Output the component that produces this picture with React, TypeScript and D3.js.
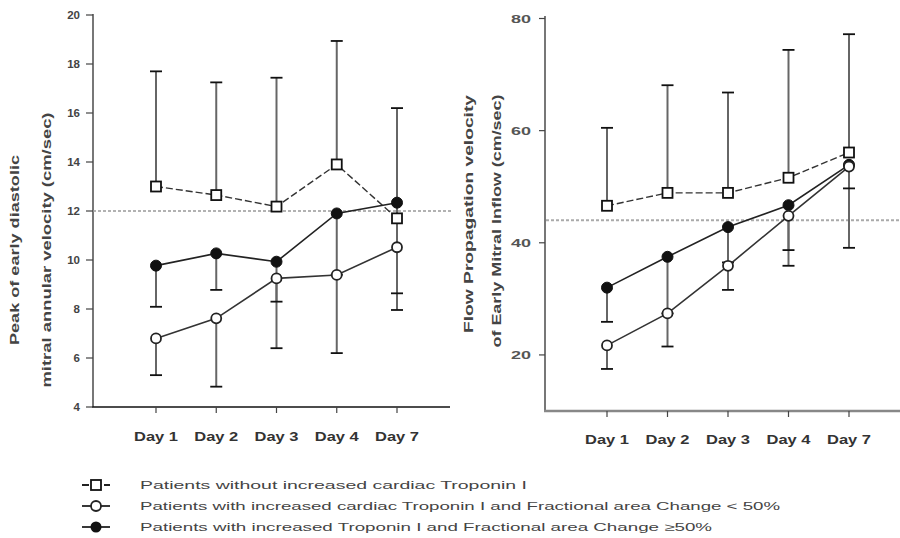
import React from "react";
import * as d3 from "d3";

const days = ["Day 1", "Day 2", "Day 3", "Day 4", "Day 7"];

// Peak early diastolic mitral annular velocity (cm/sec)
const leftSquareMean = [13.0, 12.65, 12.18, 13.9, 11.7];
const leftSquareUpper = [17.7, 17.25, 17.44, 18.94, 16.2];
const leftOpenMean = [6.8, 7.62, 9.25, 9.39, 10.52];
const leftOpenLower = [5.3, 4.83, 6.4, 6.2, 7.96];
const leftFilledMean = [9.77, 10.27, 9.93, 11.9, 12.34];
const leftFilledLower = [8.09, 8.78, 8.3, 9.4, 8.64];
const leftTicks = [4, 6, 8, 10, 12, 14, 16, 18, 20];
const leftReference = 12;

// Flow propagation velocity of early mitral inflow (cm/sec)
const rightSquareMean = [46.6, 48.9, 48.9, 51.6, 56.1];
const rightSquareUpper = [60.5, 68.1, 66.8, 74.4, 77.2];
const rightOpenMean = [21.7, 27.4, 35.9, 44.8, 53.6];
const rightOpenLower = [17.5, 21.5, 31.6, 35.9, 39.1];
const rightFilledMean = [32.0, 37.5, 42.8, 46.7, 53.9];
const rightFilledLower = [25.9, 27.4, 36.5, 38.7, 49.7];
const rightTicks = [20, 40, 60, 80];
const rightReference = 44;

const legendLabels = [
  "Patients without increased cardiac Troponin I",
  "Patients with increased cardiac Troponin I and Fractional area Change < 50%",
  "Patients with increased Troponin I and Fractional area Change \u226550%",
];
const legendWidths = [387, 640, 572];

const FONT = "'Liberation Sans', Arial, Helvetica, sans-serif";

type Panel = {
  x: d3.ScalePoint<string>;
  y: d3.ScaleLinear<number, number>;
  sqMean: number[];
  sqUpper: number[];
  opMean: number[];
  opLower: number[];
  fiMean: number[];
  fiLower: number[];
};

function Series({ x, y, sqMean, sqUpper, opMean, opLower, fiMean, fiLower }: Panel) {
  const line = (vals: number[]) =>
    d3
      .line<number>()
      .x((_, i) => x(days[i]) as number)
      .y((v) => y(v))(vals) as string;
  const cap = 6;
  const bar = (mean: number[], end: number[], key: string) =>
    mean.map((m, i) => {
      const cx = x(days[i]) as number;
      return (
        <g key={key + i}>
          <line x1={cx} x2={cx} y1={y(m)} y2={y(end[i])} stroke="#666" strokeWidth={2} />
          <line x1={cx - cap} x2={cx + cap} y1={y(end[i])} y2={y(end[i])} stroke="#111" strokeWidth={1.8} />
        </g>
      );
    });
  return (
    <g>
      {bar(sqMean, sqUpper, "sq")}
      {bar(opMean, opLower, "op")}
      {bar(fiMean, fiLower, "fi")}
      <path d={line(sqMean)} fill="none" stroke="#333" strokeWidth={1.4} strokeDasharray="7,3" />
      <path d={line(opMean)} fill="none" stroke="#333" strokeWidth={1.6} />
      <path d={line(fiMean)} fill="none" stroke="#222" strokeWidth={1.6} />
      {fiMean.map((v, i) => (
        <circle key={"fc" + i} cx={x(days[i]) as number} cy={y(v)} r={5.5} fill="#111" stroke="#111" />
      ))}
      {opMean.map((v, i) => (
        <circle key={"oc" + i} cx={x(days[i]) as number} cy={y(v)} r={5} fill="#fff" stroke="#222" strokeWidth={1.8} />
      ))}
      {sqMean.map((v, i) => (
        <rect
          key={"sq" + i}
          x={(x(days[i]) as number) - 5}
          y={y(v) - 5}
          width={10}
          height={10}
          fill="#fff"
          stroke="#111"
          strokeWidth={1.8}
        />
      ))}
    </g>
  );
}

function VTitle({ x, y, len, children }: { x: number; y: number; len: number; children: string }) {
  return (
    <g transform={`translate(${x},${y}) rotate(-90)`}>
      <text
        textAnchor="middle"
        fontSize={12}
        fontWeight="bold"
        fill="#444"
        textLength={len}
        lengthAdjust="spacingAndGlyphs"
      >
        {children}
      </text>
    </g>
  );
}

export default function App() {
  const xL = d3.scalePoint<string>().domain(days).range([156, 397]);
  const yL = d3.scaleLinear().domain([4, 20]).range([407, 15]);
  const xR = d3.scalePoint<string>().domain(days).range([607, 849]);
  const yR = d3.scaleLinear().domain([10, 80]).range([411, 18.5]);

  const legendY = [485, 506, 527];

  return (
    <svg
      width={900}
      height={538}
      style={{ position: "absolute", left: 0, top: 0, background: "#fff" }}
      fontFamily={FONT}
    >
      {/* left panel axes */}
      <line x1={93} x2={93} y1={14} y2={407} stroke="#777" strokeWidth={2} />
      <line x1={92} x2={450} y1={407} y2={407} stroke="#111" strokeWidth={1.6} />
      {leftTicks.map((t) => (
        <g key={"lt" + t}>
          <line x1={86} x2={93} y1={yL(t)} y2={yL(t)} stroke="#444" strokeWidth={1.2} />
          <text x={80} y={yL(t) + 4} textAnchor="end" fontSize={11.5} fontWeight="bold" fill="#444">
            {t}
          </text>
        </g>
      ))}
      {days.map((d) => (
        <g key={"lx" + d}>
          <line x1={xL(d) as number} x2={xL(d) as number} y1={407} y2={413} stroke="#444" strokeWidth={1.2} />
          <text
            x={xL(d) as number}
            y={441}
            textAnchor="middle"
            fontSize={12}
            fontWeight="bold"
            fill="#333"
            textLength={44}
            lengthAdjust="spacingAndGlyphs"
          >
            {d}
          </text>
        </g>
      ))}
      <line
        x1={93}
        x2={452}
        y1={yL(leftReference)}
        y2={yL(leftReference)}
        stroke="#999"
        strokeWidth={1.3}
        strokeDasharray="3,2"
      />
      <VTitle x={19} y={250} len={190}>Peak of early diastolic</VTitle>
      <VTitle x={51} y={250} len={275}>mitral annular velocity (cm/sec)</VTitle>
      <Series
        x={xL}
        y={yL}
        sqMean={leftSquareMean}
        sqUpper={leftSquareUpper}
        opMean={leftOpenMean}
        opLower={leftOpenLower}
        fiMean={leftFilledMean}
        fiLower={leftFilledLower}
      />

      {/* right panel axes */}
      <line x1={545} x2={545} y1={16} y2={411} stroke="#777" strokeWidth={2} />
      <line x1={544} x2={900} y1={411} y2={411} stroke="#888" strokeWidth={2.5} />
      {rightTicks.map((t) => (
        <g key={"rt" + t}>
          <line x1={539} x2={545} y1={yR(t)} y2={yR(t)} stroke="#444" strokeWidth={1.2} />
          <text
            x={531}
            y={yR(t) + 4}
            textAnchor="end"
            fontSize={11.5}
            fontWeight="bold"
            fill="#555"
            textLength={20}
            lengthAdjust="spacingAndGlyphs"
          >
            {t}
          </text>
        </g>
      ))}
      {days.map((d) => (
        <g key={"rx" + d}>
          <line x1={xR(d) as number} x2={xR(d) as number} y1={411} y2={417} stroke="#444" strokeWidth={1.2} />
          <text
            x={xR(d) as number}
            y={444}
            textAnchor="middle"
            fontSize={12}
            fontWeight="bold"
            fill="#333"
            textLength={44}
            lengthAdjust="spacingAndGlyphs"
          >
            {d}
          </text>
        </g>
      ))}
      <line
        x1={546}
        x2={900}
        y1={yR(rightReference)}
        y2={yR(rightReference)}
        stroke="#aaa"
        strokeWidth={2}
        strokeDasharray="3,2"
      />
      <VTitle x={473} y={214} len={238}>Flow Propagation velocity</VTitle>
      <VTitle x={501} y={221} len={253}>of Early Mitral Inflow (cm/sec)</VTitle>
      <Series
        x={xR}
        y={yR}
        sqMean={rightSquareMean}
        sqUpper={rightSquareUpper}
        opMean={rightOpenMean}
        opLower={rightOpenLower}
        fiMean={rightFilledMean}
        fiLower={rightFilledLower}
      />

      {/* legend */}
      {legendLabels.map((label, i) => {
        const ly = legendY[i];
        return (
          <g key={"lg" + i}>
            <line
              x1={82}
              x2={110}
              y1={ly}
              y2={ly}
              stroke="#222"
              strokeWidth={1.8}
              strokeDasharray={i === 0 ? "7,4" : undefined}
            />
            {i === 0 && <rect x={91} y={ly - 5} width={10} height={10} fill="#fff" stroke="#111" strokeWidth={1.8} />}
            {i === 1 && <circle cx={96} cy={ly} r={5} fill="#fff" stroke="#222" strokeWidth={1.8} />}
            {i === 2 && <circle cx={96} cy={ly} r={5.5} fill="#111" />}
            <text
              x={140}
              y={ly + 4}
              fontSize={11}
              fill="#444"
              textLength={legendWidths[i]}
              lengthAdjust="spacingAndGlyphs"
            >
              {label}
            </text>
          </g>
        );
      })}
    </svg>
  );
}
